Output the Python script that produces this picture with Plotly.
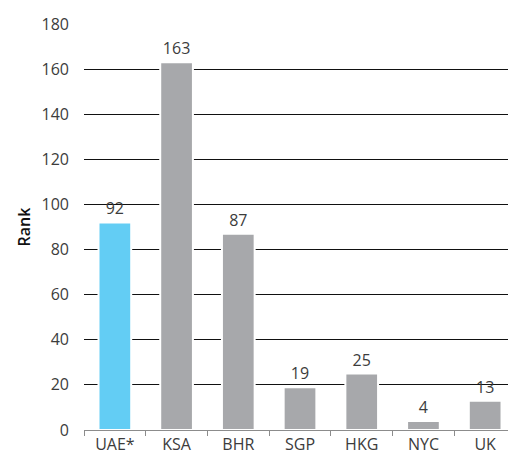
import plotly.graph_objects as go

categories = ["UAE*", "KSA", "BHR", "SGP", "HKG", "NYC", "UK"]
ranks = [92, 163, 87, 19, 25, 4, 13]
bar_colors = ["#63CDF4", "#A7A8AB", "#A7A8AB", "#A7A8AB", "#A7A8AB", "#A7A8AB", "#A7A8AB"]
y_ticks = [0, 20, 40, 60, 80, 100, 120, 140, 160, 180]

font_family = "Open Sans, Noto Sans, sans-serif"
label_color = "#3C3C3C"

fig = go.Figure(
    go.Bar(
        x=categories,
        y=ranks,
        marker=dict(color=bar_colors, line=dict(color="white", width=2)),
        width=0.53,
        text=[str(v) for v in ranks],
        textposition="outside",
        cliponaxis=False,
        textfont=dict(family=font_family, size=16, color=label_color),
    )
)

fig.update_layout(
    width=508,
    height=455,
    margin=dict(l=84, r=0, t=24, b=25),
    paper_bgcolor="white",
    plot_bgcolor="white",
    showlegend=False,
    font=dict(family=font_family, size=16, color=label_color),
)

fig.update_xaxes(
    range=[-0.5, 6.37],
    showline=True,
    linecolor="#8C8C8C",
    linewidth=1,
    ticks="outside",
    tickson="boundaries",
    ticklen=5,
    tickcolor="#8C8C8C",
    showgrid=False,
    tickfont=dict(family=font_family, size=16, color=label_color),
)

fig.update_yaxes(
    range=[0, 180],
    tickvals=y_ticks,
    showgrid=True,
    gridcolor="#111111",
    gridwidth=1,
    zeroline=False,
    showline=False,
    ticks="",
    ticklabelstandoff=14,
    tickfont=dict(family=font_family, size=16, color=label_color),
    title=dict(
        text="Rank",
        font=dict(family=font_family, size=16, color="#111111", weight=600),
        standoff=6,
    ),
)

fig.write_html("out.html")
